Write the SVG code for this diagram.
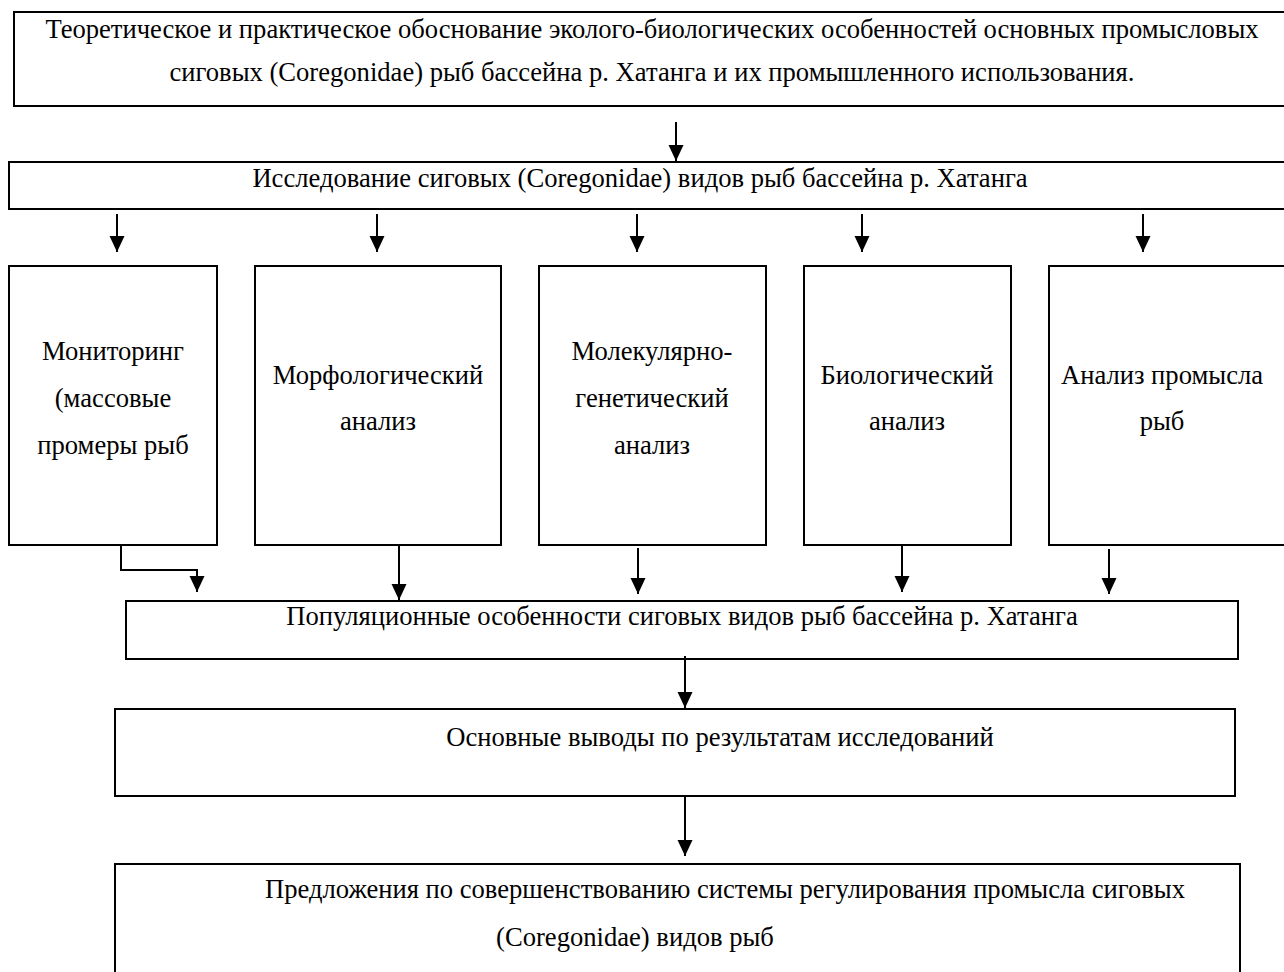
<svg xmlns="http://www.w3.org/2000/svg" width="1284" height="972" viewBox="0 0 1284 972">
<defs>
<style>
.box{fill:#fff;stroke:#000;stroke-width:2}
.t{font-family:"Liberation Serif","Times New Roman",serif;font-size:26.6px;fill:#000}
.c{text-anchor:middle}
.ln{fill:none;stroke:#000;stroke-width:2}
</style>
<marker id="ah" viewBox="0 0 16 16" refX="16" refY="8" markerWidth="16" markerHeight="16" markerUnits="userSpaceOnUse" orient="auto">
<path d="M0,0.5 L16,8 L0,15.5 z" fill="#000"/>
</marker>
</defs>
<rect width="1284" height="972" fill="#fff"/>
<g id="n-top">
<rect class="box" x="14" y="12" width="1280" height="94"/>
<text class="t c" x="652" y="38">Теоретическое и практическое обоснование эколого-биологических особенностей основных промысловых</text>
<text class="t c" x="652" y="81">сиговых (Coregonidae) рыб бассейна р. Хатанга и их промышленного использования.</text>
</g>
<g id="n-study">
<rect class="box" x="9" y="162" width="1285" height="47"/>
<text class="t c" x="640" y="187">Исследование сиговых (Coregonidae) видов рыб бассейна р. Хатанга</text>
</g>
<g id="n-monitor">
<rect class="box" x="9" y="266" width="208" height="279"/>
<text class="t c" x="113" y="360">Мониторинг</text>
<text class="t c" x="113" y="407">(массовые</text>
<text class="t c" x="113" y="454">промеры рыб</text>
</g>
<g id="n-morph">
<rect class="box" x="255" y="266" width="246" height="279"/>
<text class="t c" x="378" y="384">Морфологический</text>
<text class="t c" x="378" y="430">анализ</text>
</g>
<g id="n-molgen">
<rect class="box" x="539" y="266" width="227" height="279"/>
<text class="t c" x="652" y="360">Молекулярно-</text>
<text class="t c" x="652" y="407">генетический</text>
<text class="t c" x="652" y="454">анализ</text>
</g>
<g id="n-bio">
<rect class="box" x="804" y="266" width="207" height="279"/>
<text class="t c" x="907" y="384">Биологический</text>
<text class="t c" x="907" y="430">анализ</text>
</g>
<g id="n-fishery">
<rect class="box" x="1049" y="266" width="245" height="279"/>
<text class="t c" x="1162" y="384">Анализ промысла</text>
<text class="t c" x="1162" y="430">рыб</text>
</g>
<g id="n-pop">
<rect class="box" x="126" y="601" width="1112" height="58"/>
<text class="t c" x="682" y="625">Популяционные особенности сиговых видов рыб бассейна р. Хатанга</text>
</g>
<g id="n-concl">
<rect class="box" x="115" y="709" width="1120" height="87"/>
<text class="t c" x="720" y="746">Основные выводы по результатам исследований</text>
</g>
<g id="n-prop">
<rect class="box" x="115" y="864" width="1125" height="120"/>
<text class="t c" x="725" y="898">Предложения по совершенствованию системы регулирования промысла сиговых</text>
<text class="t c" x="635" y="946">(Coregonidae) видов рыб</text>
</g>
<g id="connectors">
<path class="ln" d="M676,122 V161" marker-end="url(#ah)"/>
<path class="ln" d="M117,214 V252" marker-end="url(#ah)"/>
<path class="ln" d="M377,214 V252" marker-end="url(#ah)"/>
<path class="ln" d="M637,214 V252" marker-end="url(#ah)"/>
<path class="ln" d="M862,214 V252" marker-end="url(#ah)"/>
<path class="ln" d="M1143,214 V252" marker-end="url(#ah)"/>
<path class="ln" d="M121,545 V570 H197 V592" marker-end="url(#ah)"/>
<path class="ln" d="M399,545 V600" marker-end="url(#ah)"/>
<path class="ln" d="M638,548 V594" marker-end="url(#ah)"/>
<path class="ln" d="M902,545 V592" marker-end="url(#ah)"/>
<path class="ln" d="M1109,549 V594" marker-end="url(#ah)"/>
<path class="ln" d="M685,656 V708" marker-end="url(#ah)"/>
<path class="ln" d="M685,796 V856" marker-end="url(#ah)"/>
</g>
</svg>
